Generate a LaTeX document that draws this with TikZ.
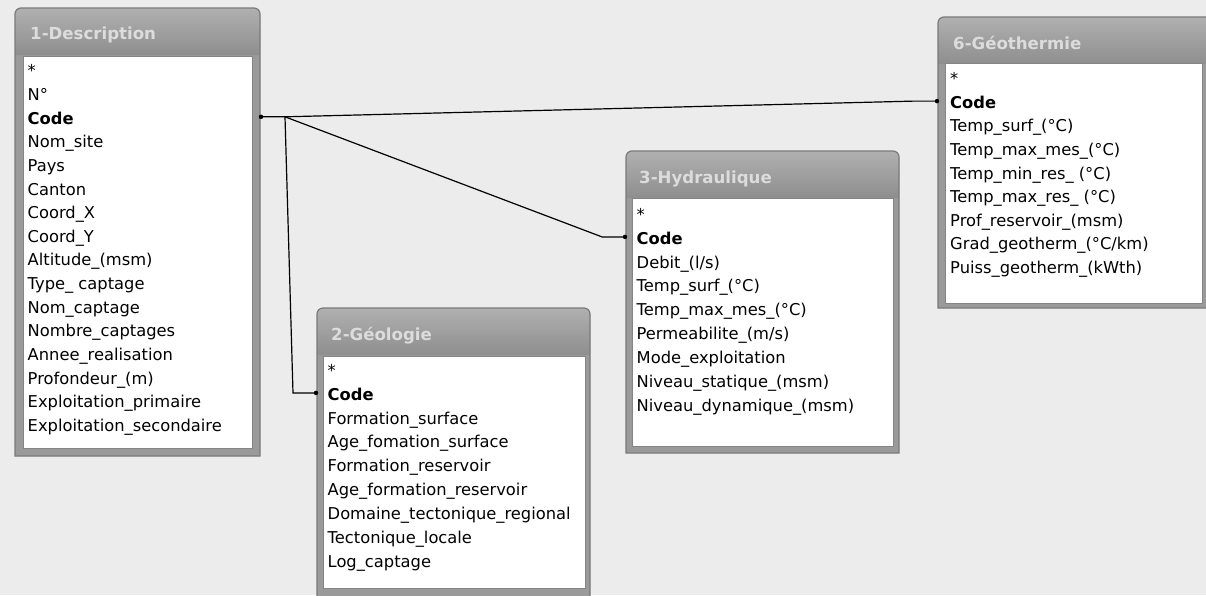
\documentclass[tikz,border=0pt]{standalone}
\usepackage{fontspec}
\setmainfont{DejaVu Sans}
\usetikzlibrary{calc}
\definecolor{bg}{HTML}{ECECEC}
\definecolor{framefill}{HTML}{9A9A9A}
\definecolor{frameline}{HTML}{7A7A7A}
\definecolor{titletop}{HTML}{B0B0B0}
\definecolor{titlebot}{HTML}{8E8E8E}
\definecolor{titletext}{HTML}{DCDCDC}
\definecolor{listline}{HTML}{858585}
\tikzset{
  frame/.style={draw=none, inner sep=0pt, outer sep=0pt, anchor=north west},
  list/.style={fill=white, draw=listline, line width=1pt, inner sep=0pt, outer sep=0pt, anchor=north west},
  ttl/.style={anchor=west, text=titletext, inner sep=0pt, font=\fontsize{16.6}{20}\selectfont\bfseries},
  row/.style={anchor=west, inner sep=0pt, text height=12pt, text depth=3.5pt, font=\fontsize{16.3}{19}\selectfont},
  link/.style={draw=black, line width=1.2pt},
  dot/.style={circle, fill=black, inner sep=0pt, minimum size=4.5pt},
}
\newcommand\dbframe[1]{%
  \path[fill=framefill] (#1.south west) [rounded corners=6pt] -- (#1.north west) -- (#1.north east) -- ([yshift=-20pt]#1.north east) [sharp corners] -- (#1.south east) -- cycle;
  \path[top color=titletop, bottom color=titlebot] ([yshift=-47pt]#1.north west) [rounded corners=6pt] -- (#1.north west) -- (#1.north east) -- ([yshift=-20pt]#1.north east) [sharp corners] -- ([yshift=-47pt]#1.north east) -- cycle;
  \path[draw=frameline, line width=1.2pt] (#1.south west) [rounded corners=6pt] -- (#1.north west) -- (#1.north east) -- ([yshift=-20pt]#1.north east) [sharp corners] -- (#1.south east) -- cycle;
}
\begin{document}
\begin{tikzpicture}[x=1pt, y=-1pt]
\useasboundingbox (0,0) rectangle (1206,595);
\fill[bg] (0,0) rectangle (1206,595);

% ---------- 1-Description ----------
\node[frame, minimum width=245pt, minimum height=448pt] (t1) at (15,8) {};
\dbframe{t1}
\node[list, minimum width=229pt, minimum height=392pt] (w1) at (23,56) {};
\node[ttl] (h1) at (30,35) {1-Description};
\foreach \t [count=\i from 0] in {*, N°, \textbf{Code}, Nom\_site, Pays, Canton, Coord\_X, Coord\_Y, Altitude\_(msm), Type\_ captage, Nom\_captage, Nombre\_captages, Annee\_realisation, Profondeur\_(m), Exploitation\_primaire, Exploitation\_secondaire}
  {\node[row] (t1r\i) at (27.5, 72.5+23.65*\i) {\t};}

% ---------- 2-Géologie ----------
\node[frame, minimum width=273pt, minimum height=300pt] (t2) at (317,308) {};
\dbframe{t2}
\node[list, minimum width=262pt, minimum height=232pt] (w2) at (323,356) {};
\node[ttl] (h2) at (331,336) {2-Géologie};
\foreach \t [count=\i from 0] in {*, \textbf{Code}, Formation\_surface, Age\_fomation\_surface, Formation\_reservoir, Age\_formation\_reservoir, Domaine\_tectonique\_regional, Tectonique\_locale, Log\_captage}
  {\node[row] (t2r\i) at (327.5, 372+23.9*\i) {\t};}

% ---------- 3-Hydraulique ----------
\node[frame, minimum width=273pt, minimum height=302pt] (t3) at (626,151) {};
\dbframe{t3}
\node[list, minimum width=261pt, minimum height=248pt] (w3) at (632,198) {};
\node[ttl] (h3) at (639,179) {3-Hydraulique};
\foreach \t [count=\i from 0] in {*, \textbf{Code}, Debit\_(l/s), Temp\_surf\_(°C), Temp\_max\_mes\_(°C), Permeabilite\_(m/s), Mode\_exploitation, Niveau\_statique\_(msm), Niveau\_dynamique\_(msm)}
  {\node[row] (t3r\i) at (636.5, 216+23.9*\i) {\t};}

% ---------- 6-Géothermie ----------
\node[frame, minimum width=276pt, minimum height=291pt] (t6) at (938,17) {};
\dbframe{t6}
\node[list, minimum width=257pt, minimum height=240pt] (w6) at (945,63) {};
\node[ttl] (h6) at (953,43) {6-Géothermie};
\foreach \t [count=\i from 0] in {*, \textbf{Code}, Temp\_surf\_(°C), Temp\_max\_mes\_(°C), Temp\_min\_res\_ (°C), Temp\_max\_res\_ (°C), Prof\_reservoir\_(msm), Grad\_geotherm\_(°C/km), Puiss\_geotherm\_(kWth)}
  {\node[row] (t6r\i) at (950, 80.5+23.6*\i) {\t};}

% ---------- relationships ----------
\coordinate (s1) at ($(t1.east |- t1r2)+(1,-3)$);
\coordinate (j) at ($(s1)+(24,0)$);
\coordinate (e6) at ($(t6.west |- t6r1)+(-1,-3)$);
\coordinate (b6) at ($(e6)+(-23,0)$);
\coordinate (e3) at ($(t3.west |- t3r1)+(-1,-3)$);
\coordinate (b3) at ($(e3)+(-23,0)$);
\coordinate (e2) at ($(t2.west |- t2r1)+(-1,-3)$);
\coordinate (b2) at ($(e2)+(-23,0)$);
\draw[link] (s1) -- (j) -- (b6) -- (e6);
\draw[link] (j) -- (b3) -- (e3);
\draw[link] (j) -- (b2) -- (e2);
\node[dot] (d1) at (s1) {};
\node[dot] (d6) at (e6) {};
\node[dot] (d3) at (e3) {};
\node[dot] (d2) at (e2) {};
\end{tikzpicture}
\end{document}
